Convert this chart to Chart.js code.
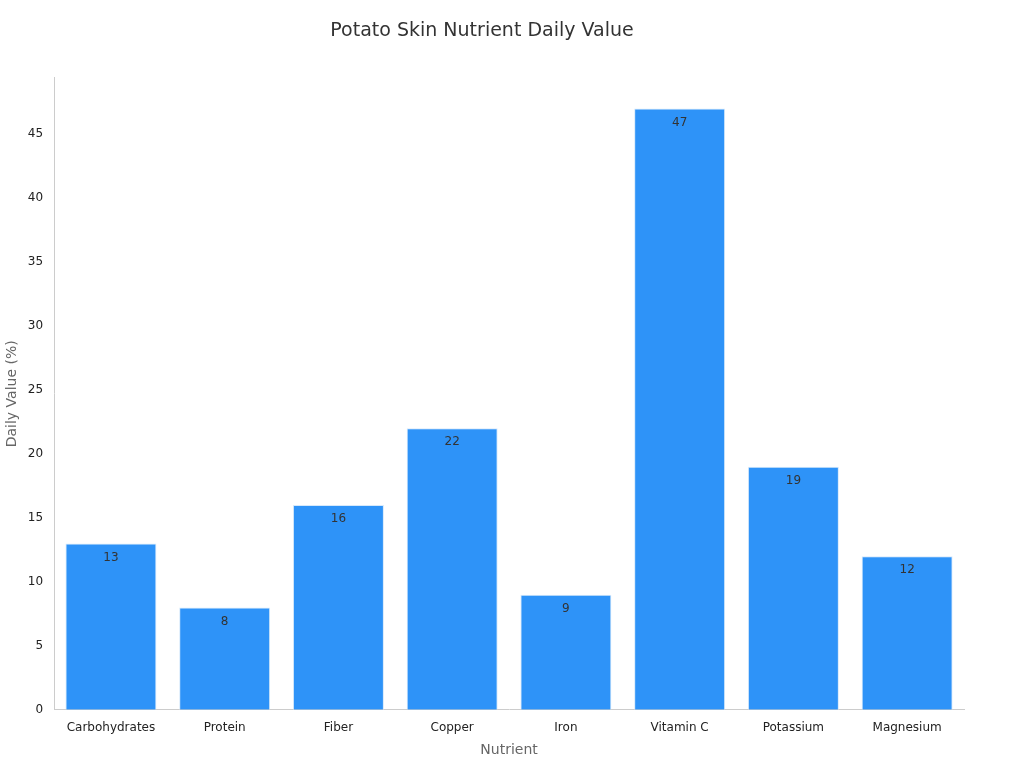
<!DOCTYPE html>
<html>
<head>
<meta charset="utf-8">
<script src="https://cdn.jsdelivr.net/npm/chart.js@4/dist/chart.umd.min.js"></script>
<style>
  body { margin: 0; background: #fff; }
  #wrap { width: 1024px; height: 768px; }
</style>
</head>
<body>
<div id="wrap"><canvas id="grafico"></canvas></div>
<script>
const nutrients = ["Carbohydrates", "Protein", "Fiber", "Copper", "Iron", "Vitamin C", "Potassium", "Magnesium"];
const dailyValues = [13, 8, 16, 22, 9, 47, 19, 12];

// value labels just inside the top of each bar
const barLabels = {
  id: "barLabels",
  afterDatasetsDraw(chart) {
    const ctx = chart.ctx;
    const meta = chart.getDatasetMeta(0);
    ctx.save();
    ctx.font = "12px 'DejaVu Sans', sans-serif";
    ctx.fillStyle = "#333";
    ctx.textAlign = "center";
    ctx.textBaseline = "top";
    meta.data.forEach((bar, i) => {
      ctx.fillText(dailyValues[i], bar.x, bar.y + 8);
    });
    ctx.restore();
  }
};

new Chart(document.getElementById("grafico"), {
  type: "bar",
  data: {
    labels: nutrients,
    datasets: [{
      data: dailyValues,
      backgroundColor: "#2e93f8",
      borderColor: "#d6e9fb",
      borderWidth: 1,
      barPercentage: 0.8,
      categoryPercentage: 1
    }]
  },
  options: {
    responsive: true,
    maintainAspectRatio: false,
    animation: false,
    layout: { padding: { top: 10, right: 60, left: 0, bottom: 5 } },
    plugins: {
      legend: { display: false },
      tooltip: { enabled: false },
      title: {
        display: true,
        text: "Potato Skin Nutrient Daily Value",
        color: "#333",
        font: { family: "'DejaVu Sans', sans-serif", size: 19, weight: "normal" },
        padding: { top: 10, bottom: 35 }
      }
    },
    scales: {
      x: {
        grid: { display: false, drawTicks: true },
        border: { color: "#ccc" },
        ticks: { color: "#222", font: { family: "'DejaVu Sans', sans-serif", size: 12 } },
        title: { display: true, text: "Nutrient", color: "#666", font: { family: "'DejaVu Sans', sans-serif", size: 14 } }
      },
      y: {
        min: 0,
        max: 49.4,
        grid: { display: false, drawTicks: true },
        border: { color: "#ccc" },
        ticks: {
          stepSize: 5,
          color: "#222",
          font: { family: "'DejaVu Sans', sans-serif", size: 12 },
          callback: v => (v % 5 === 0 ? v : null)
        },
        afterBuildTicks: axis => { axis.ticks = axis.ticks.filter(t => t.value % 5 === 0); },
        title: { display: true, text: "Daily Value (%)", color: "#666", font: { family: "'DejaVu Sans', sans-serif", size: 14 } }
      }
    }
  },
  plugins: [barLabels]
});
</script>
</body>
</html>
